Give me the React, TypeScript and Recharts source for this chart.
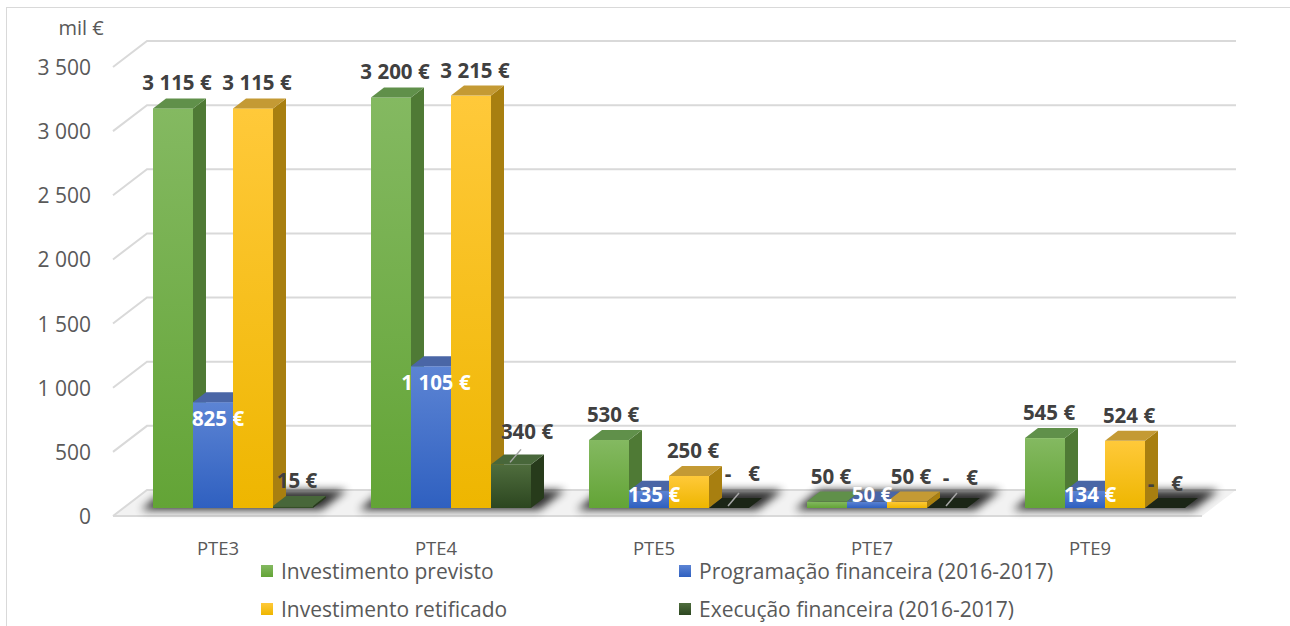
import React from "react";
import { BarChart, Bar, XAxis, YAxis, CartesianGrid, LabelList } from "recharts";

const CATEGORIES = ["PTE3", "PTE4", "PTE5", "PTE7", "PTE9"];
const INVESTIMENTO_PREVISTO = [3115, 3200, 530, 50, 545];
const PROGRAMACAO_FINANCEIRA = [825, 1105, 135, 50, 134];
const INVESTIMENTO_RETIFICADO = [3115, 3215, 250, 50, 524];
const EXECUCAO_FINANCEIRA = [15, 340, 0, 0, 0];
const Y_TICKS = [0, 500, 1000, 1500, 2000, 2500, 3000, 3500];

const SERIES = [
  { key: "previsto", name: "Investimento previsto", values: INVESTIMENTO_PREVISTO, front: ["#84b961", "#63a436"], side: "#4f7a35", top: "#60904a", flat: "#60904a", inside: false },
  { key: "programacao", name: "Programação financeira (2016-2017)", values: PROGRAMACAO_FINANCEIRA, front: ["#5c84d4", "#2f60c0"], side: "#3b5a9c", top: "#4a66a6", flat: "#4a66a6", inside: true },
  { key: "retificado", name: "Investimento retificado", values: INVESTIMENTO_RETIFICADO, front: ["#ffc93a", "#eeb600"], side: "#a87f10", top: "#c49a34", flat: "#c49a34", inside: false },
  { key: "execucao", name: "Execução financeira (2016-2017)", values: EXECUCAO_FINANCEIRA, front: ["#4f6d3d", "#2c4620"], side: "#273b1b", top: "#48673a", flat: "#1b2516", inside: false },
];

// label nudges for the last series (moved by hand in the original)
const EXEC_LABEL = [
  { dx: 0, dy: 0, leader: false },
  { dx: 12, dy: -7, leader: true },
  { dx: 0, dy: -3, leader: true },
  { dx: 0, dy: 1, leader: true },
  { dx: -13, dy: 7, leader: false },
];

const data = CATEGORIES.map((cat, i) => {
  const row: any = { cat };
  SERIES.forEach((s) => (row[s.key] = s.values[i]));
  return row;
});

const W = 1290;
const H = 626;
const DX = 13;
const DY = 10;
const FONT = "'Open Sans', sans-serif";
const PLOT_BOTTOM = 508;

const fmt = (v: number) => String(v).replace(/\B(?=(\d{3})+(?!\d))/g, " ") + " €";

const makeShape = (s: any, shadow: boolean) => (p: any) => {
  const { x, y, width: w, height: h } = p;
  const base = y + h;
  return (
    <g>
      {shadow && (
        <polygon
          points={`${x - 12},${base + 2} ${x + 4 * w + 8},${base + 2} ${x + 4 * w + 34},${base - 18} ${x + 12},${base - 18}`}
          fill="#000"
          opacity={0.8}
          filter="url(#floorBlur)"
        />
      )}
      {h > 0 && <rect x={x} y={y} width={w} height={h} fill={`url(#grad-${s.key})`} />}
      {h > 0 && (
        <polygon
          points={`${x + w},${y} ${x + w + DX},${y - DY} ${x + w + DX},${base - DY} ${x + w},${base}`}
          fill={s.side}
        />
      )}
      <polygon
        points={`${x},${y} ${x + DX},${y - DY} ${x + w + DX},${y - DY} ${x + w},${y}`}
        fill={h > 0.5 ? s.top : s.flat}
      />
    </g>
  );
};

const makeLabel = (s: any, si: number) => (p: any) => {
  const x = Number(p.x);
  const y = Number(p.y);
  const w = Number(p.width);
  const h = Number(p.height);
  const v = Number(p.value);
  const idx = p.index;
  const cx = x + w / 2;
  const base = y + h;
  const txt = { fontFamily: FONT, fontWeight: 700, fontSize: 20.5, textAnchor: "middle" as const, dominantBaseline: "central" as const };
  if (s.inside) {
    const ly = h > 60 ? y + 16 : base - 14;
    return (
      <text x={cx + 5} y={ly} fill="#ffffff" {...txt}>
        {fmt(v)}
      </text>
    );
  }
  if (si === 3) {
    const n = EXEC_LABEL[idx] || { dx: 0, dy: 0, leader: false };
    const lx = cx + 4 + n.dx;
    const ly = v === 0 ? base - 32 + n.dy : y - DY - 16 + n.dy;
    return (
      <g>
        {n.leader && <line x1={cx - 1} y1={y - 2} x2={cx + 10} y2={y - 15} stroke="#a6a6a6" strokeWidth={1.5} />}
        {v === 0 ? (
          <g>
            <text x={lx - 5} y={ly} fill="#404040" {...txt}>-</text>
            <text x={lx + 21} y={ly} fill="#404040" {...txt}>€</text>
          </g>
        ) : (
          <text x={lx} y={ly} fill="#404040" {...txt}>
            {fmt(v)}
          </text>
        )}
      </g>
    );
  }
  return (
    <text x={cx + 4} y={y - DY - 16} fill="#404040" {...txt}>
      {fmt(v)}
    </text>
  );
};

const gridLine = (p: any) => {
  const { x1, y1, x2, key } = p;
  const fx = x1 - 11;
  const fy = y1 + 8;
  const bx = x1 + 23;
  const by = y1 - 18;
  const ex = x2 + 22;
  const isFloor = Math.abs(y1 - PLOT_BOTTOM) < 1;
  return (
    <g key={key}>
      {isFloor && (
        <g>
          <polygon points={`${fx},${fy} ${ex - 34},${fy} ${ex},${by} ${bx},${by}`} fill="#f2f2f2" />
          <line x1={fx} y1={fy} x2={ex - 34} y2={fy} stroke="#d9d9d9" strokeWidth={2} />
        </g>
      )}
      <polyline points={`${fx},${fy} ${bx},${by} ${ex},${by}`} fill="none" stroke="#d9d9d9" strokeWidth={2} />
    </g>
  );
};

const YTick = (p: any) => (
  <text x={p.x - 31} y={p.y + 8} textAnchor="end" dominantBaseline="central" fontFamily={FONT} fontSize={21} fill="#595959">
    {String(p.payload.value).replace(/\B(?=(\d{3})+(?!\d))/g, " ")}
  </text>
);

const XTick = (p: any) => (
  <text x={p.x - 15} y={PLOT_BOTTOM + 39} textAnchor="middle" dominantBaseline="central" fontFamily={FONT} fontSize={18.5} fill="#595959">
    {p.payload.value}
  </text>
);

const LEGEND_ROWS = [
  [SERIES[0], SERIES[1]],
  [SERIES[2], SERIES[3]],
];

export default function App() {
  return (
    <div style={{ position: "absolute", left: 0, top: 0, width: W, height: H, background: "#fff" }}>
      <div style={{ position: "absolute", left: 6, top: 7, width: W, height: H, border: "1.5px solid #d9d9d9", boxSizing: "border-box" }} />
      <BarChart
        width={W}
        height={H}
        data={data}
        margin={{ top: 59, right: 76, bottom: 88, left: 64 }}
        barSize={40}
        barGap={0}
        style={{ position: "absolute", left: 0, top: 0 }}
      >
        <defs>
          {SERIES.map((s) => (
            <linearGradient key={s.key} id={`grad-${s.key}`} x1="0" y1="0" x2="0" y2="1">
              <stop offset="0%" stopColor={s.front[0]} />
              <stop offset="100%" stopColor={s.front[1]} />
            </linearGradient>
          ))}
          <filter id="floorBlur" x="-20%" y="-100%" width="140%" height="300%">
            <feGaussianBlur stdDeviation="4" />
          </filter>
        </defs>
        <CartesianGrid vertical={false} horizontal={gridLine} />
        <XAxis dataKey="cat" height={30} axisLine={false} tickLine={false} tickSize={0} tick={<XTick />} interval={0} />
        <YAxis
          width={60}
          domain={[0, 3500]}
          ticks={Y_TICKS}
          axisLine={false}
          tickLine={false}
          tickSize={0}
          tick={<YTick />}
          label={{
            content: (lp: any) => {
              const vb = lp.viewBox || { x: 64, y: 59 };
              return (
                <text x={vb.x + 17} y={vb.y - 32} textAnchor="middle" dominantBaseline="central" fontFamily={FONT} fontSize={20} fill="#595959">
                  mil €
                </text>
              );
            },
          }}
        />
        {SERIES.map((s, si) => (
          <Bar key={s.key} dataKey={s.key} name={s.name} fill={s.front[1]} isAnimationActive={false} shape={makeShape(s, si === 0)}>
            <LabelList dataKey={s.key} content={makeLabel(s, si)} />
          </Bar>
        ))}
      </BarChart>
      {LEGEND_ROWS.map((row, ri) =>
        row.map((s, ci) => (
          <div
            key={s.key}
            style={{
              position: "absolute",
              left: ci === 0 ? 261 : 679,
              top: ri === 0 ? 561 : 599,
              height: 20,
              lineHeight: "20px",
              display: "flex",
              alignItems: "center",
              fontFamily: FONT,
              fontSize: 21,
              color: "#595959",
              whiteSpace: "nowrap",
            }}
          >
            <span style={{ display: "inline-block", width: 12, height: 12, marginRight: 8, background: `linear-gradient(${s.front[0]}, ${s.front[1]})` }} />
            {s.name}
          </div>
        ))
      )}
    </div>
  );
}
